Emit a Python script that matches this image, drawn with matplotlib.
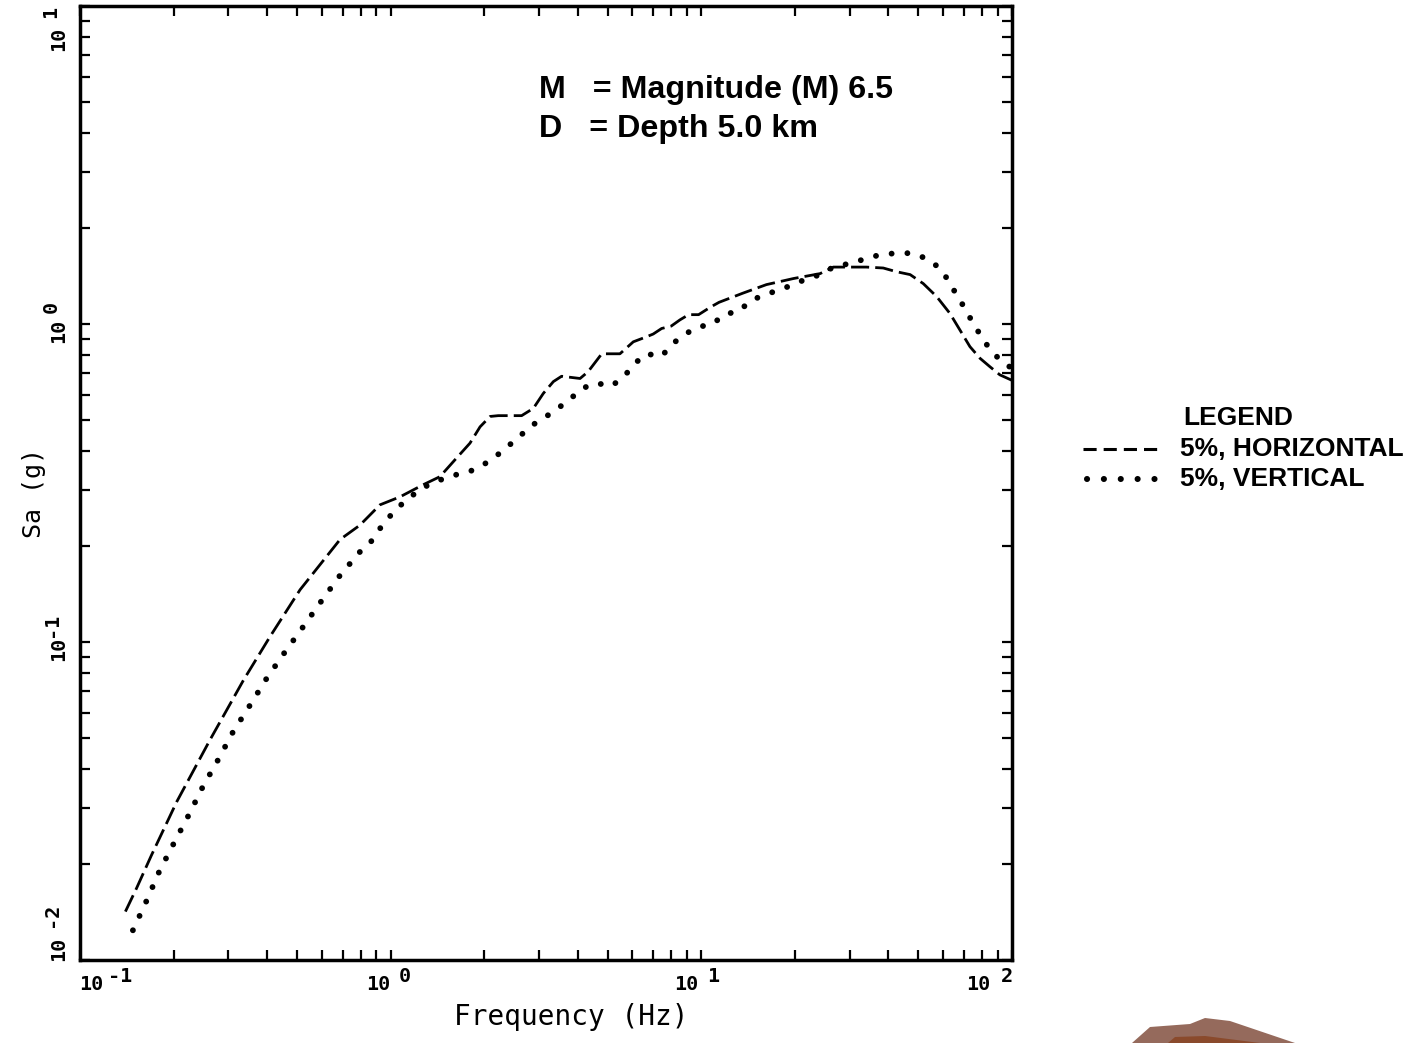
import numpy as np
import matplotlib
matplotlib.use("Agg")
import matplotlib.pyplot as plt
from matplotlib.lines import Line2D
from matplotlib.patches import Polygon

# response spectra (frequency in Hz, Sa in g)
horFreq = [0.14, 0.152, 0.17, 0.205, 0.262, 0.336, 0.409, 0.511, 0.687, 0.796,
           0.924, 1.071, 1.27, 1.44, 1.63, 1.80, 1.94, 2.09, 2.22, 2.64,
           2.88, 3.10, 3.34, 3.55, 4.07, 4.32, 4.78, 5.47, 6.04, 6.67,
           7.0, 7.45, 8.0, 8.53, 9.1, 9.8, 10.7, 11.4, 13.6, 16.2,
           19.8, 24.1, 26.6, 30.0, 34.0, 38.5, 42.5, 47.0, 51.8, 57.2,
           63.1, 68.0, 73.2, 78.9, 84.9, 91.4, 100.0]
horSa = [0.0142, 0.0168, 0.0214, 0.0315, 0.0492, 0.0759, 0.104, 0.146, 0.210, 0.233,
         0.270, 0.286, 0.312, 0.331, 0.379, 0.422, 0.475, 0.512, 0.515, 0.515,
         0.543, 0.605, 0.659, 0.685, 0.674, 0.708, 0.806, 0.806, 0.879, 0.912,
         0.93, 0.968, 0.985, 1.03, 1.07, 1.07, 1.13, 1.17, 1.25, 1.33,
         1.39, 1.44, 1.51, 1.51, 1.51, 1.50, 1.46, 1.43, 1.34, 1.22,
         1.08, 0.957, 0.849, 0.780, 0.734, 0.692, 0.665]

verFreq = [0.148, 0.164, 0.18, 0.201, 0.224, 0.249, 0.279, 0.311, 0.353, 0.399,
           0.455, 0.524, 0.600, 0.687, 0.796, 0.862, 0.96, 1.08, 1.18, 1.29,
           1.44, 1.61, 1.80, 1.99, 2.19, 2.41, 2.61, 2.86, 3.14, 3.49,
           3.82, 4.15, 4.58, 5.14, 5.65, 6.07, 6.63, 7.45, 8.07, 8.75,
           9.70, 10.9, 11.8, 13.3, 14.3, 15.8, 17.8, 19.8, 21.9, 24.2,
           26.9, 30.3, 34.1, 37.6, 42.3, 47.7, 53.6, 58.4, 62.8, 66.7,
           70.6, 74.7, 79.2, 84.9, 92.0, 100.0]
verSa = [0.0124, 0.0154, 0.0190, 0.0234, 0.0286, 0.0352, 0.0428, 0.0522, 0.0634, 0.0769,
         0.0925, 0.112, 0.135, 0.162, 0.192, 0.206, 0.240, 0.270, 0.290, 0.308,
         0.323, 0.335, 0.344, 0.361, 0.385, 0.416, 0.445, 0.481, 0.509, 0.547,
         0.586, 0.628, 0.652, 0.638, 0.685, 0.747, 0.806, 0.792, 0.865, 0.922,
         0.977, 1.00, 1.07, 1.10, 1.18, 1.23, 1.28, 1.33, 1.39, 1.43,
         1.52, 1.55, 1.61, 1.65, 1.67, 1.67, 1.60, 1.50, 1.36, 1.22,
         1.12, 1.01, 0.922, 0.832, 0.767, 0.725]

xTickValues = [0.1, 1, 10, 100]
xTickExps = ["-1", "0", "1", "2"]
yTickValues = [0.01, 0.1, 1, 10]
yTickExps = ["-2", "-1", "0", "1"]
xLabel = "Frequency (Hz)"
yLabel = "Sa (g)"
notesText = ["M   = Magnitude (M) 6.5", "D   = Depth 5.0 km"]
legendTitle = "LEGEND"
legendLabels = ["5%, HORIZONTAL", "5%, VERTICAL"]

plotFont = "DejaVu Sans Mono"
noteFont = "Liberation Sans"
PX = 0.72  # points per pixel at dpi 100

# plotter style offsets (pixels) of "10" and of the exponent from each tick
xBaseDx = [11, -12, -15, -34]
xExpDx = [40, 14, 12, -5]
yBaseDy = [11, -7, -7, -33]
yExpDy = [45, 17, 17, -6]


def tickLabels(ax):
    style = dict(textcoords="offset points", ha="center", va="center",
                 fontfamily=plotFont, fontsize=14.5, fontweight="bold",
                 annotation_clip=False)
    xTrans = ax.get_xaxis_transform()
    for v, e, bdx, edx in zip(xTickValues, xTickExps, xBaseDx, xExpDx):
        ax.annotate("10", xy=(v, 0), xycoords=xTrans,
                    xytext=(bdx * PX, -25 * PX), **style)
        ax.annotate(e, xy=(v, 0), xycoords=xTrans,
                    xytext=(edx * PX, -17 * PX), **style)
    yTrans = ax.get_yaxis_transform()
    for v, e, bdy, edy in zip(yTickValues, yTickExps, yBaseDy, yExpDy):
        ax.annotate("10", xy=(0, v), xycoords=yTrans,
                    xytext=(-21 * PX, bdy * PX), rotation=90, **style)
        ax.annotate(e, xy=(0, v), xycoords=yTrans,
                    xytext=(-29 * PX, edy * PX), rotation=90, **style)


def styleAxes(ax):
    ax.set_xscale("log")
    ax.set_yscale("log")
    ax.set_xlim(0.1, 100)
    ax.set_ylim(0.01, 10)
    for side in ax.spines.values():
        side.set_linewidth(2.5)
    ax.tick_params(which="both", direction="in", top=True, right=True,
                   length=7, width=1.6, labelbottom=False, labelleft=False)
    ax.set_xticks(xTickValues)
    ax.set_yticks(yTickValues)
    tickLabels(ax)
    ax.set_xlabel(xLabel, fontfamily=plotFont, fontsize=20)
    ax.xaxis.set_label_coords(0.527, -0.045)
    ax.set_ylabel(yLabel, fontfamily=plotFont, fontsize=18)
    ax.yaxis.set_label_coords(-0.037, 0.49)


def drawLegend(fig):
    W, H = 1425.0, 1043.0
    fig.text(1183 / W, 1 - 418 / H, legendTitle, fontfamily=noteFont,
             fontweight="bold", fontsize=19, va="center", ha="left")
    rows = [449, 479]
    fig.add_artist(Line2D([1083 / W, 1157 / W], [1 - rows[0] / H] * 2,
                          transform=fig.transFigure, color="black", lw=2.2,
                          linestyle=(0, (4.3, 2.3))))
    fig.add_artist(Line2D([1087 / W, 1161 / W], [1 - rows[1] / H] * 2,
                          transform=fig.transFigure, color="black", lw=4.4,
                          linestyle=(0, (0.01, 2.75)), dash_capstyle="round"))
    for label, row in zip(legendLabels, rows):
        fig.text(1180 / W, 1 - row / H, label, fontfamily=noteFont,
                 fontweight="bold", fontsize=19, va="center", ha="left")
    # scrap of a stamp that sits in the bottom corner of the scan
    stamp = [(1132, 1043), (1150, 1027), (1190, 1024), (1205, 1018),
             (1230, 1021), (1295, 1043)]
    fig.add_artist(Polygon([(x / W, 1 - y / H) for x, y in stamp],
                           transform=fig.transFigure, color="#956a5c", lw=0))
    inner = [(1168, 1043), (1175, 1037), (1205, 1036), (1260, 1043)]
    fig.add_artist(Polygon([(x / W, 1 - y / H) for x, y in inner],
                           transform=fig.transFigure, color="#8a4a2c", lw=0))


def main():
    fig = plt.figure(figsize=(14.25, 10.43), dpi=100)
    ax = fig.add_axes([80 / 1425, 83 / 1043, 932 / 1425, 954 / 1043])

    ax.plot(horFreq, horSa, color="black", lw=2, linestyle=(0, (6.5, 2.2)))
    ax.plot(verFreq, verSa, color="black", lw=4.2, linestyle=(0, (0.01, 2.7)),
            dash_capstyle="round")

    styleAxes(ax)

    for i, note in enumerate(notesText):
        ax.text(0.492, 0.912 - i * 0.041, note, transform=ax.transAxes,
                fontfamily=noteFont, fontweight="bold", fontsize=23.2,
                va="center", ha="left")

    drawLegend(fig)
    fig.savefig("out.png", dpi=100)


if __name__ == "__main__":
    main()
